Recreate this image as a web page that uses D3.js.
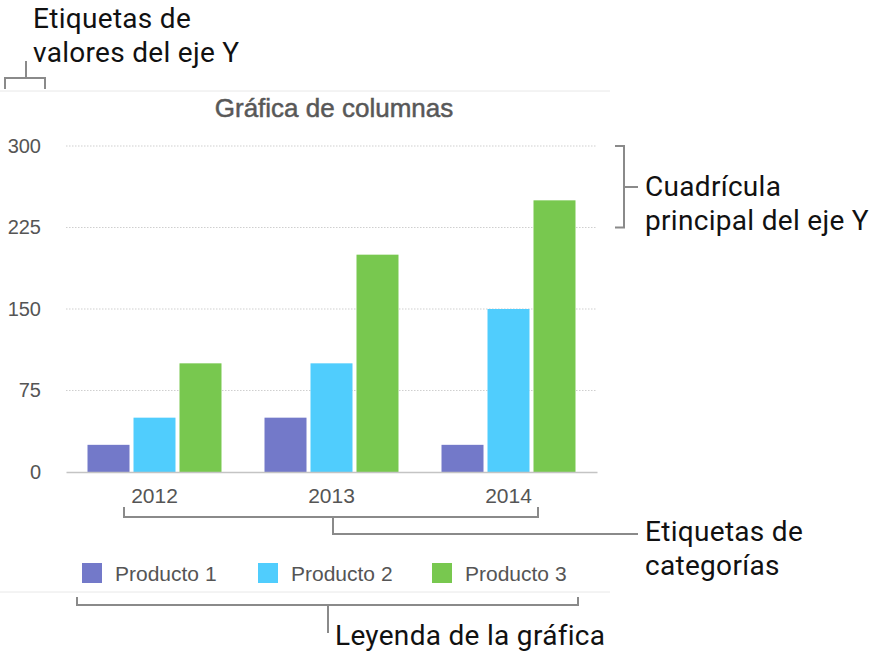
<!DOCTYPE html>
<html>
<head>
<meta charset="utf-8">
<script src="https://cdn.jsdelivr.net/npm/d3@7"></script>
<style>
  body { margin: 0; background: #fff; }
  .chart text { font-family: "Liberation Sans", Arial, sans-serif; fill: #555; }
  .note text { font-family: Roboto, "Noto Sans", sans-serif; fill: #111; font-size: 28px; letter-spacing: 0.3px; }
  .note path { fill: none; stroke: #8a8a8a; stroke-width: 2; }
</style>
</head>
<body>
<script>
// chart data
var categories = ['2012', '2013', '2014'];
var series = ['Producto 1', 'Producto 2', 'Producto 3'];
var values = {
  'Producto 1': [25, 50, 25],
  'Producto 2': [50, 100, 150],
  'Producto 3': [100, 200, 250]
};
var yTicks = [0, 75, 150, 225, 300];
var colors = ['#7379c9', '#50cdfd', '#78c84f'];

var width = 891, height = 660;
var svg = d3.select('body').append('svg').attr('width', width).attr('height', height);

var x0 = d3.scaleBand().domain(categories).range([66, 597]).paddingInner(0.243).paddingOuter(0.1215);
var x1 = d3.scaleBand().domain(series).range([0, x0.bandwidth()]).paddingInner(0.087);
var y = d3.scaleLinear().domain([0, 300]).range([472, 146]);
var color = d3.scaleOrdinal().domain(series).range(colors);

var chart = svg.append('g').attr('class', 'chart');

// separators above the title and below the legend
chart.selectAll('line.sep')
  .data([91, 592])
  .enter().append('line')
  .attr('class', 'sep')
  .attr('x1', 0).attr('x2', 610)
  .attr('y1', function (d) { return d; }).attr('y2', function (d) { return d; })
  .attr('stroke', '#e8e8e8').attr('stroke-width', 1);

chart.append('text')
  .attr('x', 334).attr('y', 117)
  .attr('text-anchor', 'middle')
  .style('font-size', '26px').style('fill', '#585858')
  .style('stroke', '#585858').style('stroke-width', 0.5)
  .text('Gráfica de columnas');

// y axis with gridlines
var yAxis = chart.append('g')
  .call(d3.axisLeft(y).tickValues(yTicks).tickSize(0).tickPadding(25).tickFormat(d3.format('d')))
  .attr('transform', 'translate(66,0)');
yAxis.select('.domain').remove();
yAxis.selectAll('text').style('font-size', '20px');

chart.append('g').selectAll('line')
  .data(yTicks.filter(function (d) { return d > 0; }))
  .enter().append('line')
  .attr('x1', 66).attr('x2', 597)
  .attr('y1', function (d) { return y(d); }).attr('y2', function (d) { return y(d); })
  .attr('stroke', '#cfcfcf').attr('stroke-dasharray', '1.5,1.5');

// bars
var groups = chart.append('g').selectAll('g')
  .data(categories)
  .enter().append('g')
  .attr('transform', function (d) { return 'translate(' + x0(d) + ',0)'; });

groups.selectAll('rect')
  .data(function (c, i) { return series.map(function (s) { return { s: s, v: values[s][i] }; }); })
  .enter().append('rect')
  .attr('x', function (d) { return x1(d.s); })
  .attr('y', function (d) { return y(d.v); })
  .attr('width', x1.bandwidth())
  .attr('height', function (d) { return y(0) - y(d.v); })
  .attr('fill', function (d) { return color(d.s); });

// baseline and category labels
var xAxis = chart.append('g')
  .attr('transform', 'translate(0,' + y(0) + ')')
  .call(d3.axisBottom(x0).tickSize(0).tickPadding(16));
xAxis.select('.domain').attr('stroke', '#c4c4c4').attr('stroke-width', 1.5);
xAxis.selectAll('text').style('font-size', '21px');

// legend
var legendX = [82, 258, 432];
var legend = chart.append('g').selectAll('g')
  .data(series)
  .enter().append('g')
  .attr('transform', function (d, i) { return 'translate(' + legendX[i] + ',563)'; });
legend.append('rect').attr('width', 20).attr('height', 20)
  .attr('fill', function (d) { return color(d); });
legend.append('text').attr('x', 33).attr('y', 18)
  .style('font-size', '21px')
  .text(function (d) { return d; });

// callouts
var note = svg.append('g').attr('class', 'note');

function label(x, yy, lines) {
  var t = note.append('text').attr('x', x).attr('y', yy);
  lines.forEach(function (l, i) {
    t.append('tspan').attr('x', x).attr('dy', i === 0 ? 0 : 34).text(l);
  });
}

label(33, 28, ['Etiquetas de', 'valores del eje Y']);
label(645, 196, ['Cuadrícula', 'principal del eje Y']);
label(645, 541, ['Etiquetas de', 'categorías']);
label(335, 645, ['Leyenda de la gráfica']);

var brackets = [
  'M5,89 V78 H45 V89 M26,78 V61',
  'M615,' + y(300) + ' H624 V' + y(225) + ' H615 M624,187 H638',
  'M124,507 V517 H538 V507 M333,517 V534 H638',
  'M77,597 V605 H578 V597 M328,605 V633'
];
note.selectAll('path')
  .data(brackets)
  .enter().append('path')
  .attr('d', function (d) { return d; });
</script>
</body>
</html>
